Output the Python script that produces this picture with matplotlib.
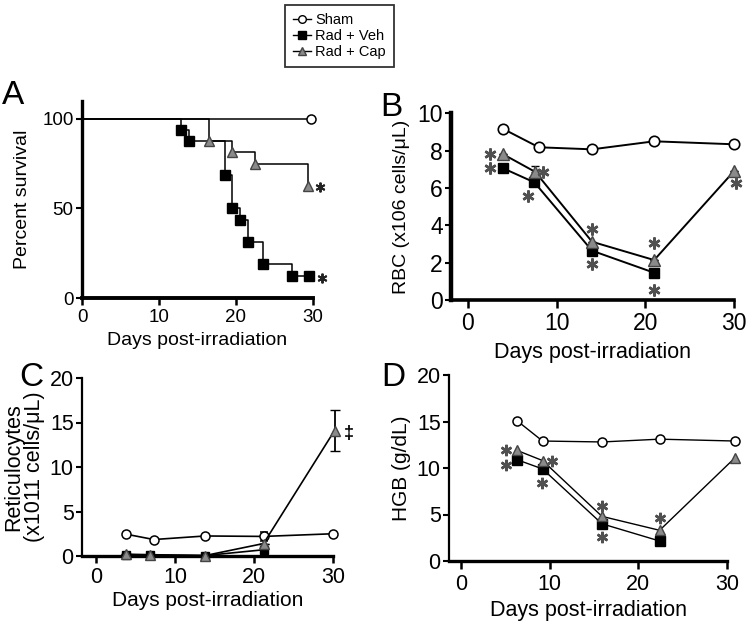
import matplotlib
matplotlib.use("Agg")
import matplotlib.pyplot as plt
from matplotlib import transforms
from matplotlib.lines import Line2D

plt.rcParams['font.family'] = ['Liberation Sans', 'DejaVu Sans']

# ---------------- data ----------------
# Panel A: Kaplan-Meier survival
a_sham_t = [0, 29.7]
a_sham_s = [100, 100]
a_veh_t = [0, 12.8, 13.9, 18.6, 19.5, 20.5, 21.5, 23.5, 27.3, 29.5]
a_veh_s = [100, 93.75, 87.5, 68.75, 50, 43.75, 31.25, 18.75, 12.5, 12.5]
a_cap_t = [0, 16.5, 19.5, 22.5, 29.3]
a_cap_s = [100, 87.5, 81.25, 75, 62.5]

# Panel B: RBC
b_sham_d = [4, 8, 14, 21, 30]
b_sham_v = [9.16, 8.18, 8.07, 8.5, 8.34]
b_veh_d = [4, 7.5, 14, 21]
b_veh_v = [7.05, 6.3, 2.64, 1.46]
b_cap_d = [4, 7.6, 14, 21, 30]
b_cap_v = [7.8, 6.86, 3.12, 2.14, 6.9]
b_cap_e = [0, 0.33, 0, 0, 0]

# Panel C: Reticulocytes
c_sham_d = [3.8, 7.3, 13.8, 21.2, 30.0]
c_sham_v = [2.45, 1.85, 2.25, 2.2, 2.5]
c_sham_e = [0, 0, 0, 0.55, 0]
c_veh_d = [3.8, 6.8, 13.8, 21.2]
c_veh_v = [0.15, 0.1, 0.05, 0.7]
c_cap_d = [3.8, 6.8, 13.8, 21.2, 30.2]
c_cap_v = [0.2, 0.15, 0.05, 1.4, 14.1]
c_cap_e = [0, 0, 0, 0, 2.35]

# Panel D: HGB
d_sham_d = [6.3, 9.2, 15.9, 22.4, 30.9]
d_sham_v = [15.1, 12.9, 12.8, 13.1, 12.9]
d_veh_d = [6.3, 9.2, 15.9, 22.4]
d_veh_v = [10.9, 9.9, 4.0, 2.15]
d_cap_d = [6.3, 9.2, 15.9, 22.4, 30.9]
d_cap_v = [11.9, 10.8, 4.8, 3.3, 11.1]

legend_labels = ['Sham', 'Rad + Veh', 'Rad + Cap']

# significance star placements: (series, index, dx_px, dy_px)
b_stars = [('cap', 0, -13, 0), ('veh', 0, -13, 0), ('cap', 1, 8, 0), ('veh', 1, -6, -14),
           ('cap', 2, 0, 13), ('veh', 2, 0, -13), ('cap', 3, 0, 17), ('veh', 3, 0, -17),
           ('cap', 4, 2, -12)]
d_stars = [('cap', 0, -11, 0), ('veh', 0, -11, -5), ('cap', 1, 9, 0), ('veh', 1, -1, -14),
           ('cap', 2, 0, 10), ('veh', 2, 0, -13), ('cap', 3, 0, 12)]

W, H = 750, 626
fig = plt.figure(figsize=(W / 100, H / 100), dpi=100)


def ax_px(l, r, b, t):
    return fig.add_axes([l / W, 1 - b / H, (r - l) / W, (b - t) / H])


GRAY = '#8a8a8a'
STAR = '#505050'


def style(ax, xlim, ylim, xt, yt, fs, yw, xw, tl=4):
    ax.set_xlim(*xlim)
    ax.set_ylim(*ylim)
    ax.set_xticks(xt)
    ax.set_yticks(yt)
    for s in ['top', 'right']:
        ax.spines[s].set_visible(False)
    ax.spines['left'].set_linewidth(yw)
    ax.spines['bottom'].set_linewidth(xw)
    ax.tick_params(axis='y', direction='out', length=tl, width=1.5, labelsize=fs, pad=2)
    ax.tick_params(axis='x', direction='out', length=5, width=1.8, labelsize=fs, pad=3)
    ax.patch.set_visible(False)


def px_offset(ax, dx, dy):
    return transforms.offset_copy(ax.transData, fig=fig, x=dx * 0.72, y=dy * 0.72, units='points')


def stars(ax, spec, series, ms=8.6, color=STAR, lw=1.8):
    for name, i, dx, dy in spec:
        xs, ys = series[name]
        ax.plot([xs[i]], [ys[i]], linestyle='none', marker=(6, 2, 0), ms=ms, mew=lw,
                color=color, transform=px_offset(ax, dx, dy), clip_on=False, zorder=6)


# ---------------- Panel A ----------------
axA = ax_px(82, 313, 298, 101)
style(axA, (0, 30), (0, 110), [0, 10, 20, 30], [0, 50, 100], 13.5, 2.4, 2.8)
axA.step(a_sham_t, a_sham_s, where='post', color='black', lw=1.1, zorder=2, clip_on=False)
axA.plot(a_sham_t[1:], a_sham_s[1:], 'o', ms=6.5, mfc='white', mec='black', mew=1.1, clip_on=False, zorder=4)
axA.step(a_cap_t, a_cap_s, where='post', color='black', lw=1.1, zorder=2, clip_on=False)
axA.plot(a_cap_t[1:], a_cap_s[1:], '^', ms=7.5, mfc=GRAY, mec='#444444', mew=1.0, linestyle='none', clip_on=False, zorder=4)
axA.step(a_veh_t, a_veh_s, where='post', color='black', lw=1.1, zorder=3, clip_on=False)
axA.plot(a_veh_t[1:], a_veh_s[1:], 's', ms=6.5, mfc='black', mec='black', linestyle='none', clip_on=False, zorder=5)
stars(axA, [('cap', -1, 12, -1), ('veh', -1, 13, -2)],
      {'cap': (a_cap_t, a_cap_s), 'veh': (a_veh_t, a_veh_s)}, ms=7, color='#222222', lw=1.4)
axA.set_ylabel('Percent survival', fontsize=14, labelpad=8)
axA.set_xlabel('Days post-irradiation', fontsize=14, labelpad=4)
fig.text(13 / W, 1 - 96 / H, 'A', fontsize=24, ha='center', va='center')

# ---------------- Panel B ----------------
axB = ax_px(451, 734, 300, 113.3)
style(axB, (-1.9, 30), (0, 10), [0, 10, 20, 30], [0, 2, 4, 6, 8, 10], 16.5, 3.2, 2.6)
axB.tick_params(axis='x', length=6)
axB.plot(b_sham_d, b_sham_v, '-o', color='black', lw=1.4, ms=7.5, mfc='white', mec='black', mew=1.2, clip_on=False, zorder=3)
axB.plot(b_veh_d, b_veh_v, '-s', color='black', lw=1.4, ms=7.5, mfc='black', mec='black', clip_on=False, zorder=4)
axB.errorbar(b_cap_d, b_cap_v, yerr=[[0] * len(b_cap_e), b_cap_e], fmt='-^', color='black', lw=1.4, ms=8.5,
             mfc=GRAY, mec='#444444', mew=1.0, capsize=3, elinewidth=1.2, clip_on=False, zorder=4)
stars(axB, b_stars, {'cap': (b_cap_d, b_cap_v), 'veh': (b_veh_d, b_veh_v)})
axB.set_ylabel('RBC (x106 cells/\u03bcL)', fontsize=14, labelpad=5)
axB.set_xlabel('Days post-irradiation', fontsize=15.5, labelpad=5)
fig.text(391 / W, 1 - 107 / H, 'B', fontsize=24, ha='center', va='center')

# ---------------- Panel C ----------------
axC = ax_px(82, 333, 556, 378)
style(axC, (-1.8, 30), (0, 20), [0, 10, 20, 30], [0, 5, 10, 15, 20], 15.5, 1.6, 2.4)
axC.errorbar(c_sham_d, c_sham_v, yerr=c_sham_e, fmt='-o', color='black', lw=1.2, ms=6.5, mfc='white', mec='black',
             mew=1.1, capsize=3, elinewidth=1.1, clip_on=False, zorder=3)
axC.plot(c_veh_d, c_veh_v, '-s', color='black', lw=1.2, ms=6, mfc='black', mec='black', clip_on=False, zorder=4)
axC.errorbar(c_cap_d, c_cap_v, yerr=c_cap_e, fmt='-^', color='black', lw=1.2, ms=7, mfc=GRAY, mec='#444444',
             mew=1.0, capsize=3.5, elinewidth=1.3, clip_on=False, zorder=5)
axC.annotate('\u2021', xy=(c_cap_d[-1], c_cap_v[-1]), xytext=(10, -2), textcoords='offset points',
             fontsize=13, fontweight='bold', ha='center', va='center', annotation_clip=False)
axC.set_ylabel('Reticulocytes\n(x1011 cells/\u03bcL)', fontsize=15.5, labelpad=3, linespacing=1.0)
axC.set_xlabel('Days post-irradiation', fontsize=15, labelpad=2)
fig.text(31 / W, 1 - 378 / H, 'C', fontsize=24, ha='center', va='center')

# ---------------- Panel D ----------------
axD = ax_px(449, 727, 561, 375)
style(axD, (-1.35, 30), (0, 20), [0, 10, 20, 30], [0, 5, 10, 15, 20], 15.5, 1.6, 2.4)
axD.tick_params(axis='x', length=6)
axD.plot(d_sham_d, d_sham_v, '-o', color='black', lw=1.0, ms=6.5, mfc='white', mec='black', mew=1.1, clip_on=False, zorder=3)
axD.plot(d_veh_d, d_veh_v, '-s', color='black', lw=1.0, ms=6.5, mfc='black', mec='black', clip_on=False, zorder=4)
axD.plot(d_cap_d, d_cap_v, '-^', color='black', lw=1.0, ms=7.5, mfc=GRAY, mec='#444444', mew=1.0, clip_on=False, zorder=4)
stars(axD, d_stars, {'cap': (d_cap_d, d_cap_v), 'veh': (d_veh_d, d_veh_v)}, ms=8.2)
axD.set_ylabel('HGB (g/dL)', fontsize=15, labelpad=4)
axD.set_xlabel('Days post-irradiation', fontsize=15.5, labelpad=4)
fig.text(393 / W, 1 - 377 / H, 'D', fontsize=24, ha='center', va='center')

# ---------------- Legend ----------------
handles = [
    Line2D([], [], color='black', lw=1.0, marker='o', ms=5.5, mfc='white', mec='black'),
    Line2D([], [], color='black', lw=1.0, marker='s', ms=5.5, mfc='black', mec='black'),
    Line2D([], [], color='black', lw=1.0, marker='^', ms=6, mfc=GRAY, mec='#444444'),
]
leg = fig.legend(handles, legend_labels, loc='upper left', bbox_to_anchor=(285 / W, 1 - 5 / H),
                 frameon=True, fancybox=False, edgecolor='black', fontsize=10.5, handlelength=1.2,
                 handletextpad=0.3, labelspacing=0.15, borderpad=0.55, borderaxespad=0)
leg.get_frame().set_linewidth(1.3)

fig.savefig('out.png', dpi=100)
